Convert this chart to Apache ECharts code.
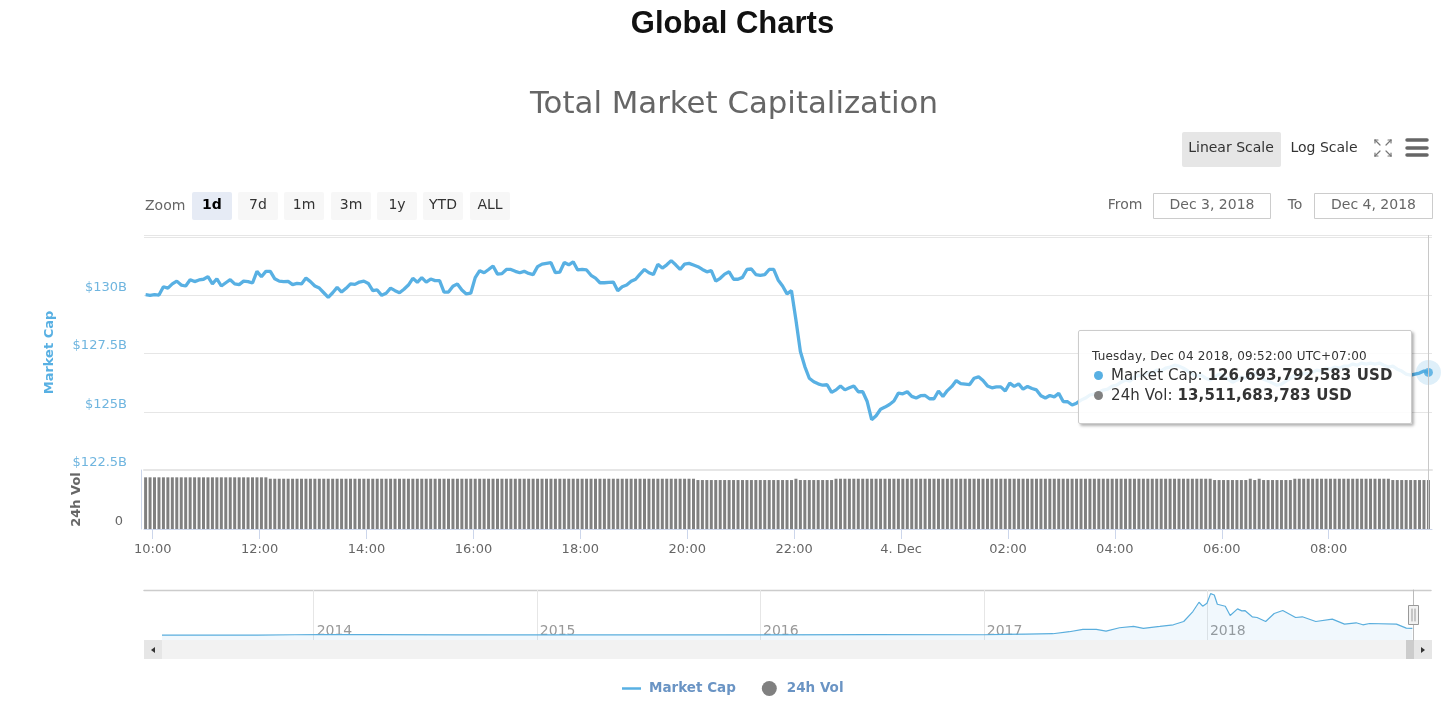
<!DOCTYPE html>
<html lang="en">
<head>
    <meta charset="UTF-8">
    <title>Total Market Capitalization</title>
    <script src="https://cdn.jsdelivr.net/npm/echarts@6/dist/echarts.min.js"></script>
    <style>
        html, body { margin: 0; padding: 0; background: #fff; }
    </style>
</head>
<body>
    <div id="main" style="width: 1453px;height:706px;"></div>
    <script type="text/javascript">
        // Market cap in $B, one reading every 5 minutes from Dec 3 09:52 (UTC+07)
        const marketCap = [
            130.03,130.00,130.03,130.01,130.37,130.31,130.49,130.61,130.44,130.40,
            130.67,130.59,130.66,130.69,130.80,130.49,130.71,130.40,130.54,130.67,
            130.49,130.46,130.61,130.59,130.53,131.03,130.80,131.03,131.03,130.71,
            130.61,130.59,130.60,130.46,130.51,130.49,130.74,130.59,130.40,130.31,
            130.11,129.91,130.11,130.34,130.14,130.30,130.49,130.47,130.57,130.61,
            130.51,130.20,130.23,130.00,130.09,130.31,130.20,130.11,130.26,130.44,
            130.73,130.56,130.76,130.57,130.70,130.63,130.63,130.14,130.14,130.39,
            130.49,130.23,130.06,130.09,130.76,131.06,130.97,131.11,131.26,130.91,
            130.93,131.11,131.11,131.03,130.97,131.03,130.94,130.89,131.23,131.34,
            131.37,131.40,130.97,131.00,131.41,131.31,131.44,131.09,131.11,131.09,
            130.86,130.74,130.54,130.54,130.56,130.57,130.20,130.37,130.44,130.60,
            130.69,130.91,131.11,130.97,130.89,131.33,131.17,131.31,131.49,131.31,
            131.11,131.34,131.37,131.30,131.23,131.11,131.01,131.06,130.61,130.73,
            130.91,131.01,130.69,130.69,130.77,131.11,131.13,130.89,130.86,130.89,
            131.11,131.11,130.66,130.40,130.06,130.20,128.94,127.59,126.94,126.44,
            126.29,126.20,126.14,126.16,125.83,125.94,126.11,125.94,126.03,126.11,
            125.86,125.86,125.44,124.66,124.83,125.11,125.20,125.31,125.46,125.80,
            125.77,125.86,125.66,125.59,125.69,125.70,125.56,125.56,125.89,125.66,
            125.91,126.09,126.34,126.21,126.19,126.17,126.44,126.50,126.34,126.11,
            126.03,126.07,126.07,125.89,126.23,126.09,126.20,125.97,126.09,126.00,
            125.94,125.69,125.59,125.70,125.64,125.79,125.44,125.43,125.29,125.37,
            125.50,125.59,125.72,125.76,125.84,125.93,125.97,126.10,126.14,126.27,
            126.36,126.32,126.49,126.57,126.53,126.70,126.66,126.79,126.75,126.87,
            126.92,127.00,126.96,126.87,126.75,126.62,126.53,126.57,126.44,126.36,
            126.49,126.62,126.53,126.40,126.27,126.36,126.49,126.44,126.57,126.66,
            126.53,126.40,126.32,126.23,126.14,126.19,126.32,126.44,126.57,126.53,
            126.66,126.62,126.70,126.79,126.75,126.87,126.83,126.92,126.87,126.96,
            126.96,127.05,127.00,127.09,127.05,127.09,127.05,127.09,127.00,126.92,
            126.96,126.83,126.75,126.62,126.57,126.62,126.66,126.75,126.69
        ];

        // 24h volume in $B, same timestamps
        const volume = [
            14.26,14.26,14.26,14.26,14.26,14.26,14.26,14.26,14.26,14.26,
            14.26,14.26,14.26,14.26,14.26,14.26,14.26,14.26,14.26,14.26,
            14.26,14.26,14.26,14.26,14.26,14.26,14.26,14.26,13.87,13.87,
            13.87,13.87,13.87,13.87,13.87,13.87,13.87,13.87,13.87,13.87,
            13.87,13.87,13.87,13.87,13.87,13.87,13.87,13.87,13.87,13.87,
            13.87,13.87,13.87,13.87,13.87,13.87,13.87,13.87,13.87,13.87,
            13.87,13.87,13.87,13.87,13.87,13.87,13.87,13.87,13.87,13.87,
            13.87,13.87,13.87,13.87,13.87,13.87,13.87,13.87,13.87,13.87,
            13.87,13.87,13.87,13.87,13.87,13.87,13.87,13.87,13.87,13.87,
            13.87,13.87,13.87,13.87,13.87,13.87,13.87,13.87,13.87,13.87,
            13.87,13.87,13.87,13.87,13.87,13.87,13.87,13.87,13.87,13.87,
            13.87,13.87,13.87,13.87,13.87,13.87,13.87,13.87,13.87,13.87,
            13.87,13.87,13.87,13.87,13.51,13.51,13.51,13.51,13.51,13.51,
            13.51,13.51,13.51,13.51,13.51,13.51,13.51,13.51,13.51,13.51,
            13.51,13.51,13.51,13.51,13.51,13.51,13.87,13.51,13.51,13.51,
            13.51,13.51,13.51,13.51,13.51,13.87,13.87,13.87,13.87,13.87,
            13.87,13.87,13.87,13.87,13.87,13.87,13.87,13.87,13.87,13.87,
            13.87,13.87,13.87,13.87,13.87,13.87,13.87,13.87,13.87,13.87,
            13.87,13.87,13.87,13.87,13.87,13.87,13.87,13.87,13.87,13.87,
            13.87,13.87,13.87,13.87,13.87,13.87,13.87,13.87,13.87,13.87,
            13.87,13.87,13.87,13.87,13.87,13.87,13.87,13.87,13.87,13.87,
            13.87,13.87,13.87,13.87,13.87,13.87,13.87,13.87,13.87,13.87,
            13.87,13.87,13.87,13.87,13.87,13.87,13.87,13.87,13.87,13.87,
            13.87,13.87,13.87,13.87,13.87,13.87,13.87,13.87,13.87,13.87,
            13.51,13.51,13.51,13.51,13.51,13.51,13.51,13.51,13.87,13.51,
            13.87,13.51,13.51,13.51,13.51,13.51,13.51,13.51,13.87,13.87,
            13.87,13.87,13.87,13.87,13.87,13.87,13.87,13.87,13.87,13.87,
            13.87,13.87,13.87,13.87,13.87,13.87,13.87,13.87,13.87,13.87,
            13.51,13.51,13.51,13.51,13.51,13.51,13.51,13.51,13.51
        ];

        const xTickTimes = ['2018-12-03T10:00:00Z','2018-12-03T12:00:00Z','2018-12-03T14:00:00Z','2018-12-03T16:00:00Z','2018-12-03T18:00:00Z','2018-12-03T20:00:00Z','2018-12-03T22:00:00Z','2018-12-04T00:00:00Z','2018-12-04T02:00:00Z','2018-12-04T04:00:00Z','2018-12-04T06:00:00Z','2018-12-04T08:00:00Z'];
        const xTickLabels = ['10:00','12:00','14:00','16:00','18:00','20:00','22:00','4. Dec','02:00','04:00','06:00','08:00'];
        const capTicks = [122.5, 125, 127.5, 130];
        const capTickLabels = ['$122.5B','$125B','$127.5B','$130B'];

        // Navigator: full history of total market cap in $B
        const navDates = ['2013-04-28','2013-10-01','2013-12-01','2014-01-10','2014-04-01','2014-09-01','2015-01-15','2015-07-01','2016-01-01','2016-07-01','2017-01-01','2017-02-03','2017-03-11','2017-04-24','2017-05-21','2017-06-12','2017-07-04','2017-07-20','2017-08-11','2017-09-03','2017-09-19','2017-10-16','2017-11-07','2017-11-24','2017-12-09','2017-12-19','2017-12-25','2018-01-01','2018-01-07','2018-01-13','2018-01-18','2018-01-31','2018-02-08','2018-02-20','2018-02-27','2018-03-04','2018-03-16','2018-03-24','2018-04-07','2018-04-21','2018-05-05','2018-05-26','2018-06-06','2018-06-28','2018-07-25','2018-08-14','2018-09-02','2018-09-13','2018-09-24','2018-11-07','2018-11-23','2018-12-03'];
        const navValues = [1.5,2,8,12,9,7,5,4,7,10,8,15,21,28,68,114,114,81,147,173,134,173,206,272,470,655,576,635,827,800,615,576,391,523,483,490,365,351,272,430,490,351,365,272,318,219,246,206,232,219,140,134];
        const navYearTicks = ['2014-01-01','2015-01-01','2016-01-01','2017-01-01','2018-01-01'];

        const rangeButtons = ['1d','7d','1m','3m','1y','YTD','ALL'];
        const rangeButtonLeft = [192,238,284,331,377,423,470];

        const FONT = '"DejaVu Sans", sans-serif';
        const BLUE = '#58b0e3';
        const GREY = '#808080';

        const FIVE_MIN = 5 * 60 * 1000;
        const startTime = Date.UTC(2018, 11, 3, 9, 52);
        const times = marketCap.map((v, i) => startTime + i * FIVE_MIN);
        const lastTime = times[times.length - 1];
        const lastCap = marketCap[marketCap.length - 1];
        const xMin = startTime - 1.8 * 60 * 1000;
        const xMax = lastTime + 4 * 60 * 1000;
        const toMs = d => new Date(d + 'T00:00:00Z').getTime();
        const xTickValues = xTickTimes.map(t => new Date(t).getTime());
        const navTickValues = navYearTicks.map(toMs);

        let graphics = [];

        function addText(text, x, y, opts) {
            graphics.push({
                type: 'text', x: x, y: y, silent: true,
                style: Object.assign({
                    text: text, font: '14px ' + FONT, fill: '#333',
                    textAlign: 'center', textVerticalAlign: 'middle'
                }, opts || {})
            });
        }
        function addRect(x, y, w, h, fill, opts) {
            graphics.push(Object.assign({
                type: 'rect', silent: true,
                shape: { x: x, y: y, width: w, height: h, r: 2 },
                style: { fill: fill }
            }, opts || {}));
        }
        function addLine(x1, y1, x2, y2, color, width) {
            graphics.push({
                type: 'line', silent: true,
                shape: { x1: x1, y1: y1, x2: x2, y2: y2 },
                style: { stroke: color, lineWidth: width, lineCap: 'round' }
            });
        }

        // Zoom buttons
        addText('Zoom', 145, 206, { textAlign: 'left', fill: '#666' });
        rangeButtons.forEach((label, i) => {
            const selected = i === 0;
            addRect(rangeButtonLeft[i], 192, 40, 28, selected ? '#e6ebf5' : '#f7f7f7');
            addText(label, rangeButtonLeft[i] + 20, 205, {
                fill: selected ? '#000' : '#333',
                font: (selected ? 'bold ' : '') + '14px ' + FONT
            });
        });

        // Scale toggle and menu icons
        addRect(1182, 132, 99, 35, '#e6e6e6');
        addText('Linear Scale', 1231, 148, { fill: '#333' });
        addText('Log Scale', 1324, 148, { fill: '#333' });
        [[1375,140,1380,145],[1391,140,1386,145],[1375,156,1380,151],[1391,156,1386,151]].forEach(p => addLine(p[0], p[1], p[2], p[3], '#777', 1.2));
        [[1375,140,1375,143],[1375,140,1378,140],[1391,140,1391,143],[1391,140,1388,140],[1375,156,1375,153],[1375,156,1378,156],[1391,156,1391,153],[1391,156,1388,156]].forEach(p => addLine(p[0], p[1], p[2], p[3], '#777', 1.2));
        [140, 148, 155].forEach(y => addLine(1407, y, 1427, y, '#666', 3.5));

        // Date range inputs
        addText('From', 1125, 205, { fill: '#666' });
        addRect(1153.5, 193.5, 117, 25, '#fff', { style: { fill: '#fff', stroke: '#ccc', lineWidth: 1 }, shape: { x: 1153.5, y: 193.5, width: 117, height: 25 } });
        addText('Dec 3, 2018', 1212, 205, { fill: '#666' });
        addText('To', 1295, 205, { fill: '#666' });
        addRect(1314.5, 193.5, 118, 25, '#fff', { style: { fill: '#fff', stroke: '#ccc', lineWidth: 1 }, shape: { x: 1314.5, y: 193.5, width: 118, height: 25 } });
        addText('Dec 4, 2018', 1373.5, 205, { fill: '#666' });

        // Navigator frame and scrollbar
        addLine(144, 590.5, 1431, 590.5, '#ccc', 1.5);
        addRect(144, 640, 1288, 19, '#f2f2f2', { shape: { x: 144, y: 640, width: 1288, height: 19 } });
        addRect(144, 640, 18, 19, '#e6e6e6', { shape: { x: 144, y: 640, width: 18, height: 19 } });
        addRect(1406, 640, 8, 19, '#cccccc', { shape: { x: 1406, y: 640, width: 8, height: 19 } });
        addRect(1414, 640, 18, 19, '#e6e6e6', { shape: { x: 1414, y: 640, width: 18, height: 19 } });
        graphics.push({ type: 'polygon', silent: true, shape: { points: [[155, 647], [155, 653], [151, 650]] }, style: { fill: '#333' } });
        graphics.push({ type: 'polygon', silent: true, shape: { points: [[1421, 647], [1421, 653], [1425, 650]] }, style: { fill: '#333' } });
        addLine(1413.5, 590, 1413.5, 640, '#bbb', 1);
        addRect(1408.5, 605.5, 10, 19, '#f2f2f2', { style: { fill: '#f2f2f2', stroke: '#999', lineWidth: 1 }, shape: { x: 1408.5, y: 605.5, width: 10, height: 19 } });
        addLine(1412, 609, 1412, 621, '#999', 1);
        addLine(1415, 609, 1415, 621, '#999', 1);

        const tipDot = color => '<span style="display:inline-block;width:9px;height:9px;border-radius:50%;margin:0 8px 0 2px;background:' + color + ';"></span>';
        const tipHtml =
            '<div style="font-size:12px;line-height:14px;color:#333;letter-spacing:0.2px;margin:4px 0 2px;">Tuesday, Dec 04 2018, 09:52:00 UTC+07:00</div>' +
            '<div style="font-size:15px;line-height:20px;color:#333;letter-spacing:0.1px;">' + tipDot(BLUE) + 'Market Cap: <b>126,693,792,583 USD</b></div>' +
            '<div style="font-size:15px;line-height:20px;color:#333;letter-spacing:0.1px;">' + tipDot(GREY) + '24h Vol: <b>13,511,683,783 USD</b></div>';

        const pointerStyle = { show: true, type: 'line', label: { show: false }, lineStyle: { color: '#c8c8c8', width: 1, type: 'solid' } };

        const options = {
            animation: false,
            textStyle: { fontFamily: FONT },
            title: [
                { text: 'Global Charts', left: 727.5, textAlign: 'center', top: 4, textStyle: { fontFamily: '"Liberation Sans", sans-serif', fontSize: 31, fontWeight: 'bold', color: '#111' } },
                { text: 'Total Market Capitalization', left: 729, textAlign: 'center', top: 84, textStyle: { fontFamily: FONT, fontSize: 30.8, fontWeight: 'normal', color: '#666' } }
            ],
            legend: {
                left: 617, top: 676, itemWidth: 19, itemHeight: 15, itemGap: 26,
                data: [
                    { name: 'Market Cap', icon: 'path://M0,0 L19,0 L19,2.5 L0,2.5 Z' },
                    { name: '24h Vol', icon: 'circle' }
                ],
                textStyle: { fontFamily: FONT, fontSize: 13.5, fontWeight: 'bold', color: '#6a94c4', padding: [0, 0, 0, 3] }
            },
            tooltip: {
                trigger: 'axis',
                triggerOn: 'none',
                alwaysShowContent: true,
                position: [1078, 330],
                backgroundColor: 'rgba(255,255,255,0.88)',
                borderColor: '#ccc',
                borderWidth: 1,
                padding: [14, 13],
                extraCssText: 'box-shadow:2px 2px 3px rgba(0,0,0,0.3);border-radius:2px;width:306px;height:64px;box-sizing:content-box;font-family:"DejaVu Sans",sans-serif;',
                formatter: () => tipHtml
            },
            axisPointer: { link: [{ xAxisIndex: [0, 1] }] },
            grid: [
                { left: 144, top: 235, width: 1288, height: 235 },
                { left: 144, top: 470, width: 1288, height: 59 },
                { left: 162, top: 590, width: 1251, height: 50 }
            ],
            xAxis: [
                {
                    type: 'value', gridIndex: 0, min: xMin, max: xMax, scale: true,
                    axisLine: { show: true, onZero: false, lineStyle: { color: '#e6e6e6', width: 2 } },
                    axisTick: { show: false }, axisLabel: { show: false }, splitLine: { show: false },
                    axisPointer: pointerStyle
                },
                {
                    type: 'value', gridIndex: 1, min: xMin, max: xMax, scale: true,
                    axisLine: { show: true, onZero: false, lineStyle: { color: '#ccd6eb', width: 1 } },
                    axisTick: { show: true, length: 10, customValues: xTickValues, lineStyle: { color: '#ccd6eb' } },
                    axisLabel: {
                        customValues: xTickValues, margin: 14, color: '#666', fontSize: 13, fontFamily: FONT,
                        formatter: v => xTickLabels[xTickValues.indexOf(v)]
                    },
                    splitLine: { show: false },
                    axisPointer: pointerStyle
                },
                {
                    type: 'value', gridIndex: 2, min: toMs('2013-04-28'), max: toMs('2018-12-04'), scale: true,
                    axisLine: { show: false, onZero: false },
                    axisTick: { show: false, customValues: navTickValues },
                    axisLabel: {
                        customValues: navTickValues, inside: true, margin: 2, align: 'left', padding: [0, 0, 0, 3], color: '#999', fontSize: 14, fontFamily: FONT,
                        formatter: v => String(new Date(v).getUTCFullYear())
                    },
                    splitLine: { show: true, lineStyle: { color: '#e6e6e6', width: 1 } }
                }
            ],
            yAxis: [
                {
                    type: 'value', gridIndex: 0, min: 122.5, max: 132.59, interval: 2.5,
                    name: 'Market Cap', nameLocation: 'middle', nameRotate: 90, nameGap: 88,
                    nameTextStyle: { color: BLUE, fontSize: 13, fontWeight: 'bold', fontFamily: FONT },
                    axisLine: { show: false }, axisTick: { show: false },
                    axisLabel: {
                        margin: 17, color: '#6fb5df', fontSize: 13, fontFamily: FONT, verticalAlign: 'bottom', lineHeight: 15,
                        formatter: v => capTickLabels[capTicks.indexOf(v)] || ''
                    },
                    splitLine: { lineStyle: { color: '#e6e6e6', width: 1 } }
                },
                {
                    type: 'value', gridIndex: 1, min: 0, max: 16.28, interval: 16.28, offset: 3,
                    name: '24h Vol', nameLocation: 'middle', nameRotate: 90, nameGap: 58,
                    nameTextStyle: { color: '#666', fontSize: 13, fontWeight: 'bold', fontFamily: FONT },
                    axisLine: { show: true, lineStyle: { color: '#ccd6eb' } }, axisTick: { show: false },
                    axisLabel: {
                        margin: 18, color: '#666', fontSize: 13, fontFamily: FONT, verticalAlign: 'bottom', lineHeight: 15,
                        formatter: v => v === 0 ? '0' : ''
                    },
                    splitLine: { show: false }
                },
                { type: 'value', gridIndex: 2, min: -97, max: 899, show: false }
            ],
            series: [
                {
                    name: 'Market Cap', type: 'line', xAxisIndex: 0, yAxisIndex: 0,
                    data: times.map((t, i) => [t, marketCap[i]]),
                    symbol: 'none', showSymbol: false, color: BLUE,
                    lineStyle: { color: BLUE, width: 3.3 }, emphasis: { disabled: true }
                },
                {
                    name: '24h Vol', type: 'bar', xAxisIndex: 1, yAxisIndex: 1,
                    data: times.map((t, i) => [t, volume[i]]),
                    barWidth: 3, itemStyle: { color: GREY }, emphasis: { disabled: true }
                },
                {
                    // halo around the hovered point
                    name: 'halo', type: 'scatter', xAxisIndex: 0, yAxisIndex: 0,
                    data: [[lastTime, lastCap]], symbolSize: 25, silent: true,
                    itemStyle: { color: 'rgba(88,176,227,0.25)' }, z: 5, tooltip: { show: false }
                },
                {
                    name: 'point', type: 'scatter', xAxisIndex: 0, yAxisIndex: 0,
                    data: [[lastTime, lastCap]], symbolSize: 9, silent: true,
                    itemStyle: { color: '#4aa9e0' }, z: 6, tooltip: { show: false }
                },
                {
                    name: 'Navigator', type: 'line', xAxisIndex: 2, yAxisIndex: 2,
                    data: navDates.map((d, i) => [toMs(d), navValues[i]]),
                    symbol: 'none', silent: true, tooltip: { show: false },
                    lineStyle: { color: '#5aaedd', width: 1.2 },
                    areaStyle: { color: 'rgba(88,176,227,0.12)', origin: 'start' }
                }
            ],
            graphic: graphics
        };

        let myChart = echarts.init(document.getElementById('main'));
        myChart.setOption(options);
        myChart.dispatchAction({ type: 'showTip', seriesIndex: 0, dataIndex: marketCap.length - 1 });
    </script>
</body>
</html>
